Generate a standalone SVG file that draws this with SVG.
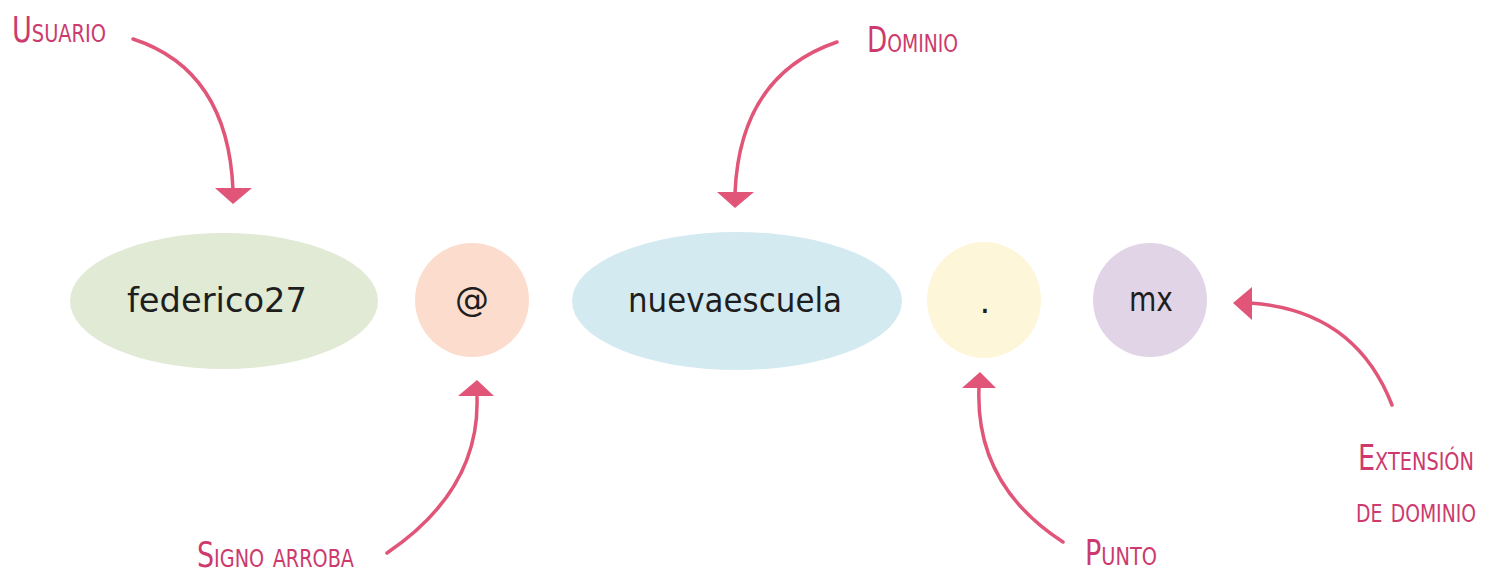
<svg xmlns="http://www.w3.org/2000/svg" width="1493" height="574" viewBox="0 0 1493 574">
<defs>
<style>
.lbl{font-family:"DejaVu Sans Condensed","Liberation Sans",Arial,sans-serif;fill:#cc3a6e;font-size:35px;font-variant:small-caps;}
.end{text-anchor:end;}
.hand{font-family:"DejaVu Sans","Liberation Sans",sans-serif;font-size:34px;fill:#1e1e1e;text-anchor:middle;}
.arr{fill:none;stroke:#e05578;stroke-width:3.5;stroke-linecap:round;}
.head{fill:#e05578;}
</style>
</defs>
<rect width="1493" height="574" fill="#ffffff"/>
<g id="node-usuario-part">
<ellipse cx="224" cy="301" rx="154" ry="68" fill="#e0ead4"/>
<text class="hand" x="217" y="312" textLength="180" lengthAdjust="spacingAndGlyphs">federico27</text>
</g>
<g id="node-arroba">
<circle cx="472" cy="300" r="57" fill="#fcdccc"/>
<text class="hand" x="472" y="311">@</text>
</g>
<g id="node-dominio-part">
<ellipse cx="737" cy="301" rx="165" ry="69" fill="#d4eaf1"/>
<text class="hand" x="735" y="312" textLength="214" lengthAdjust="spacingAndGlyphs">nuevaescuela</text>
</g>
<g id="node-punto">
<ellipse cx="984" cy="300" rx="57" ry="58" fill="#fef6d9"/>
<text class="hand" x="985" y="313">.</text>
</g>
<g id="node-mx">
<circle cx="1150" cy="300" r="57" fill="#e1d4e7"/>
<text class="hand" x="1151" y="311" textLength="44" lengthAdjust="spacingAndGlyphs">mx</text>
</g>
<g id="labels">
<text class="lbl" x="12" y="42" textLength="94" lengthAdjust="spacingAndGlyphs">Usuario</text>
<text class="lbl" x="867" y="52" textLength="91" lengthAdjust="spacingAndGlyphs">Dominio</text>
<text class="lbl" x="197" y="567" textLength="157" lengthAdjust="spacingAndGlyphs">Signo arroba</text>
<text class="lbl" x="1085" y="565" textLength="72" lengthAdjust="spacingAndGlyphs">Punto</text>
<text class="lbl end" x="1474" y="470" textLength="116" lengthAdjust="spacingAndGlyphs">Extensión</text>
<text class="lbl end" x="1476" y="522" font-size="33" textLength="120" lengthAdjust="spacingAndGlyphs">de dominio</text>
</g>
<g id="connectors">
<path class="arr" d="M133,39 Q228,70 233,190"/>
<polygon class="head" points="215,188 252,188 233,204"/>
<path class="arr" d="M837,42 Q740,75 735,193"/>
<polygon class="head" points="717,192 754,192 735,208"/>
<path class="arr" d="M387,553 Q480,490 477,397"/>
<polygon class="head" points="458,396 494,396 477,380"/>
<path class="arr" d="M1063,542 Q975,485 979,388"/>
<polygon class="head" points="962,388 996,388 980,372"/>
<path class="arr" d="M1392,405 Q1355,310 1250,303"/>
<polygon class="head" points="1252,287 1252,320 1233,303"/>
</g>
</svg>
